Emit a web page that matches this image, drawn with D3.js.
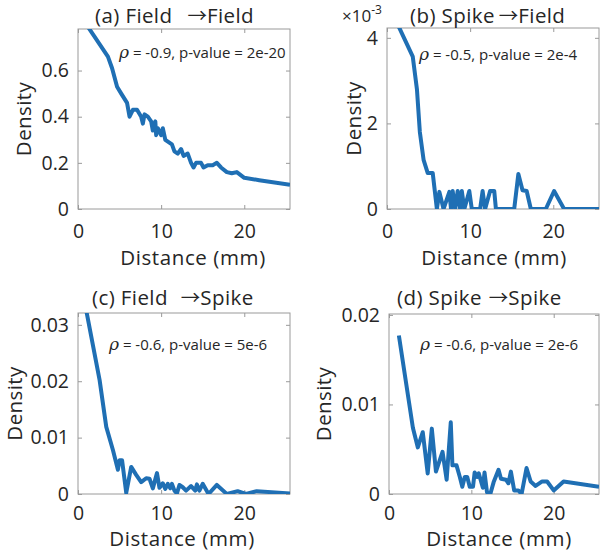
<!DOCTYPE html>
<html><head><meta charset="utf-8">
<script src="https://cdn.jsdelivr.net/npm/d3@7"></script>
<style>body{margin:0;background:#fff}svg{display:block}text{font-family:"Open Sans",sans-serif;fill:#262626}</style>
</head><body>
<svg id="c" width="600" height="556"></svg>
<script>
// ---- data ----
const titleFrom = ["(a) Field", "(b) Spike", "(c) Field", "(d) Spike"];
const titleTo = ["Field", "Field", "Spike", "Spike"];
const stats = ["= -0.9, p-value = 2e-20", "= -0.5, p-value = 2e-4", "= -0.6, p-value = 5e-6", "= -0.6, p-value = 2e-6"];
const xTicks = [0, 10, 20];
const yTicksA = [0, 0.2, 0.4, 0.6], yLabelsA = ["0", "0.2", "0.4", "0.6"];
const yTicksB = [0, 2, 4], yLabelsB = ["0", "2", "4"];
const yTicksC = [0, 0.01, 0.02, 0.03], yLabelsC = ["0", "0.01", "0.02", "0.03"];
const yTicksD = [0, 0.01, 0.02], yLabelsD = ["0", "0.01", "0.02"];

const distA = [1.0,3.6,4.1,4.7,5.2,5.9,6.2,6.6,7.1,7.6,7.8,8.0,8.4,8.8,9.0,9.3,9.4,9.6,10.0,10.2,10.5,10.9,11.3,11.6,12.0,12.4,12.7,13.2,13.6,13.9,14.2,14.8,15.1,15.6,16.2,16.7,17.2,17.9,18.5,19.1,20.0,21.8,25.5];
const densA = [0.80,0.66,0.61,0.53,0.50,0.46,0.40,0.43,0.43,0.40,0.37,0.41,0.40,0.38,0.34,0.38,0.32,0.35,0.32,0.35,0.30,0.29,0.28,0.25,0.24,0.26,0.23,0.24,0.20,0.18,0.20,0.20,0.18,0.19,0.19,0.20,0.18,0.16,0.155,0.16,0.135,0.125,0.105];

// panel (b) values in units of 1e-3
const distB = [1.2,3.1,3.6,3.95,4.4,4.9,5.5,6.0,6.3,6.8,7.5,7.7,7.9,8.2,8.5,8.8,9.0,9.3,9.9,10.2,11.2,11.5,11.8,12.4,12.9,13.1,15.3,15.8,16.3,16.8,17.3,19.1,20.1,21.3,25.5];
const densB = [4.35,3.56,2.8,1.8,1.15,0.84,0.84,0,0.4,0,0.4,0,0.42,0,0.42,0,0.42,0,0.42,0,0,0.42,0,0.42,0.42,0,0,0.82,0.44,0.42,0,0,0.42,0,0];

const distC = [1.0,2.6,3.4,4.2,4.8,5.0,5.3,5.8,6.4,7.0,7.6,8.2,8.6,9.0,9.5,9.8,10.2,10.5,10.8,11.1,11.3,11.6,11.9,12.2,12.6,13.0,13.6,14.1,14.3,14.6,15.0,15.7,16.7,17.9,19.2,20.2,21.5,25.5];
const densC = [0.0325,0.0202,0.0119,0.0078,0.0043,0.006,0.006,0.0002,0.0048,0.0034,0.0021,0.0028,0.0027,0.001,0.0037,0.0011,0.0019,0.0009,0.0018,0.001,0.0018,0.0006,0.0001,0.0016,0.0012,0.0006,0.0014,0.0006,0.0017,0.0006,0.0018,0,0.0016,0,0.0005,0,0.0005,0.0001];

const distD = [1.2,2.9,3.5,4.1,4.7,5.2,5.7,6.5,7.0,7.5,7.7,8.2,8.6,8.9,9.2,9.5,9.8,10.2,10.4,10.7,10.9,11.4,11.6,11.9,12.3,12.7,13.3,13.6,14.2,14.5,14.8,15.2,15.7,16.1,16.7,17.2,17.8,18.6,19.2,20.0,21.2,25.5];
const densD = [0.0177,0.0074,0.0052,0.0069,0.0023,0.0073,0.0025,0.0047,0.0016,0.008,0.0032,0.0032,0.0019,0.0008,0.0019,0.0019,0.0008,0.0008,0.0024,0.0019,0.0023,0.0007,0.0024,0.0002,0,0.0013,0.0027,0.0017,0.0016,0.0012,0.0025,0.0004,0.0004,0,0.0029,0.0014,0.0009,0.0014,0.0014,0.0004,0.0014,0.0008];

// ---- layout ----
const panels = [
  {x: distA, y: densA, yMax: 0.78, yt: yTicksA, yl: yLabelsA, box: [78, 290, 29, 209], tx: 95, ty: 22.8, gap: 15, sx: 119, sy: 58, dlx: 31, xlx: 193, xly: 265, pad: 15},
  {x: distB, y: densB, yMax: 4.23, yt: yTicksB, yl: yLabelsB, box: [387, 599, 28, 209], tx: 410, ty: 22.8, gap: 4, sx: 419, sy: 60, dlx: 361, xlx: 494, xly: 265, pad: 15, exp: true},
  {x: distC, y: densC, yMax: 0.0321, yt: yTicksC, yl: yLabelsC, box: [78, 290, 313, 494], tx: 92, ty: 305, gap: 13, sx: 109, sy: 350, dlx: 22, xlx: 182, xly: 546, pad: 12},
  {x: distD, y: densD, yMax: 0.0201, yt: yTicksD, yl: yLabelsD, box: [389, 599, 314, 494], tx: 397, ty: 305, gap: 7, sx: 420, sy: 350, dlx: 331, xlx: 499, xly: 546, pad: 12}
];

const svg = d3.select("#c");
const axisCol = "#9a9a9a", lineCol = "#1f6fb4";

panels.forEach((p, i) => {
  const [L, R, T, B] = p.box;
  const x = d3.scaleLinear().domain([0, 25.5]).range([L, R]);
  const y = d3.scaleLinear().domain([0, p.yMax]).range([B, T]);
  const g = svg.append("g");
  g.append("defs").append("clipPath").attr("id", "clip" + i)
    .append("rect").attr("x", L).attr("y", T).attr("width", R - L).attr("height", B - T);

  g.append("rect").attr("x", L).attr("y", T).attr("width", R - L).attr("height", B - T)
    .attr("fill", "none").attr("stroke", axisCol).attr("stroke-width", 1);

  const xb = g.append("g").attr("transform", `translate(0,${B})`)
    .call(d3.axisBottom(x).tickValues(xTicks).tickSize(-4).tickPadding(p.pad).tickFormat(d3.format("d")));
  xb.select(".domain").remove();
  xb.selectAll("line").attr("stroke", axisCol);
  xb.selectAll("text").attr("font-size", 19.5).style("fill", "#262626");
  const xt = g.append("g").attr("transform", `translate(0,${T})`)
    .call(d3.axisTop(x).tickValues(xTicks).tickSize(-4).tickFormat(""));
  xt.select(".domain").remove(); xt.selectAll("line").attr("stroke", axisCol);

  const yl = g.append("g").attr("transform", `translate(${L},0)`)
    .call(d3.axisLeft(y).tickValues(p.yt).tickSize(-4).tickPadding(9).tickFormat((d, k) => p.yl[k]));
  yl.select(".domain").remove();
  yl.selectAll("line").attr("stroke", axisCol);
  yl.selectAll("text").attr("font-size", 19.5).style("fill", "#262626");
  const yr = g.append("g").attr("transform", `translate(${R},0)`)
    .call(d3.axisRight(y).tickValues(p.yt).tickSize(-4).tickFormat(""));
  yr.select(".domain").remove(); yr.selectAll("line").attr("stroke", axisCol);

  const pts = p.x.map((d, k) => [d, p.y[k]]);
  g.append("path").datum(pts).attr("clip-path", `url(#clip${i})`)
    .attr("fill", "none").attr("stroke", lineCol).attr("stroke-width", 4)
    .attr("stroke-linejoin", "round")
    .attr("d", d3.line().x(d => x(d[0])).y(d => y(d[1])));

  // title
  const t = g.append("text").attr("x", p.tx).attr("y", p.ty).attr("font-size", 20.5).attr("letter-spacing", 0.4);
  t.append("tspan").text(titleFrom[i]);
  t.append("tspan").attr("dx", p.gap).attr("font-family", "Noto Sans CJK SC")
    .attr("font-size", 19.5).attr("letter-spacing", 0).text("\u2192");
  t.append("tspan").attr("dx", 0).text(titleTo[i]);
  // stats
  const st = g.append("text").attr("x", p.sx).attr("y", p.sy).attr("font-size", 15);
  st.append("tspan").attr("font-style", "italic").attr("font-size", 17).attr("font-family", "DejaVu Serif").text("\u03C1");
  st.append("tspan").text(" " + stats[i]);
  // axis labels
  g.append("text").attr("transform", `translate(${p.dlx},${(T + B) / 2}) rotate(-90)`)
    .attr("text-anchor", "middle").attr("font-size", 20.5).attr("letter-spacing", 0.4).text("Density");
  g.append("text").attr("x", p.xlx).attr("y", p.xly).attr("text-anchor", "middle")
    .attr("font-size", 20.5).attr("letter-spacing", 0.6).text("Distance (mm)");
  if (p.exp) {
    const e = g.append("text").attr("x", 342).attr("y", 22).attr("font-size", 17);
    e.append("tspan").text("\u00D710");
    e.append("tspan").attr("dy", -8).attr("font-size", 12).text("-3");
  }
});
</script>
</body></html>
